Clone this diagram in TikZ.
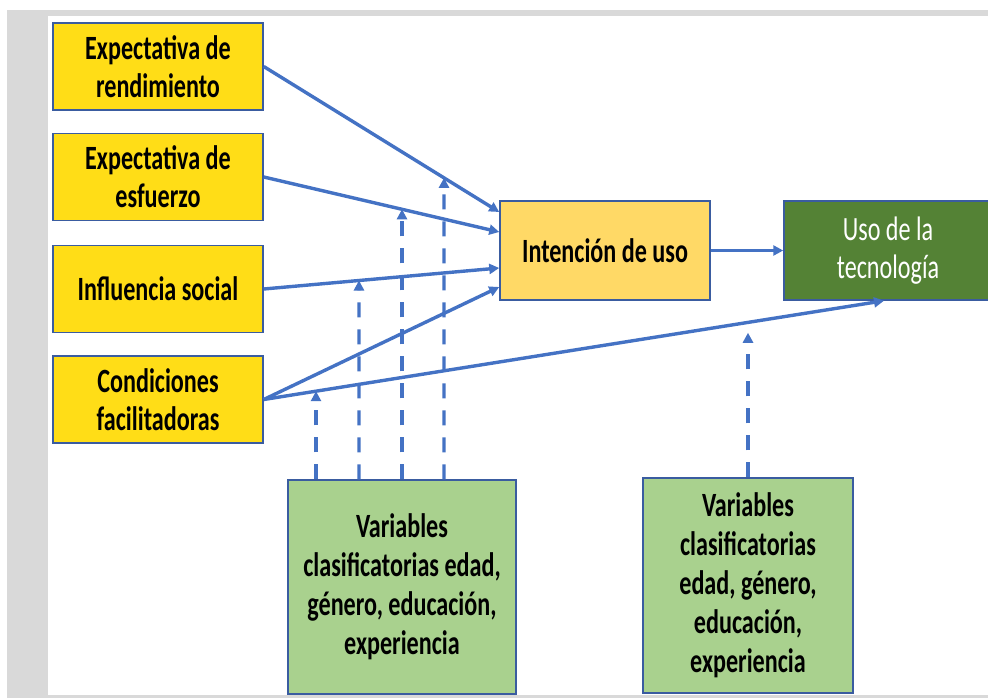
\documentclass[tikz,border=0pt]{standalone}
\usepackage{fontspec}
\setmainfont{Carlito}[FakeStretch=0.71]
\usetikzlibrary{arrows.meta}
\definecolor{myblue}{RGB}{68,114,196}
\definecolor{myedge}{RGB}{58,92,160}
\definecolor{myyellow}{RGB}{255,221,23}
\definecolor{myorange}{RGB}{255,217,102}
\definecolor{mygreen}{RGB}{84,130,53}
\definecolor{mylightgreen}{RGB}{169,209,142}
\definecolor{mygray}{RGB}{217,217,217}

\tikzset{
  factor/.style={draw=myedge, fill=myyellow, line width=1.5pt, inner sep=0pt,
    minimum width=210pt, minimum height=87pt, align=center,
    font=\bfseries\fontsize{34}{38}\selectfont},
  intent/.style={factor, fill=myorange, minimum height=99pt},
  usage/.style={factor, fill=mygreen, text=white, minimum width=208pt,
    minimum height=99pt, font=\fontsize{34}{38}\selectfont},
  moder/.style={factor, fill=mylightgreen, font=\bfseries\fontsize{34}{39}\selectfont},
  flow/.style={draw=myblue, line width=3.4pt, -{Triangle[length=10pt,width=10pt]}},
  modflow/.style={flow, dash pattern=on 15pt off 12pt}
}

\begin{document}
\begin{tikzpicture}[x=1pt,y=-1pt]
\useasboundingbox (0,0) rectangle (988,698);

%page frame
\fill[white] (0,0) rectangle (988,698);
\fill[mygray] (7,10) rectangle (988,698);
\fill[white] (48,16) rectangle (988,695);

%determinants
\node[factor] (rend) at (158,66.5) {Expectativa de\\rendimiento};
\node[factor] (esf) at (158,177) {Expectativa de\\esfuerzo};
\node[factor] (soc) at (158,289) {Influencia social};
\node[factor] (cond) at (158,399.5) {Condiciones\\facilitadoras};

%intention and use
\node[intent] (int) at (605,250.5) {Intención de uso};
\node[usage] (uso) at (888,250.5) {Uso de la\\tecnología};

%moderators
\node[moder, minimum width=228pt, minimum height=214pt] (var1) at (402,587)
  {Variables\\clasificatorias edad,\\género, educación,\\experiencia};
\node[moder, minimum height=215pt] (var2) at (748,585.5)
  {Variables\\clasificatorias\\edad, género,\\educación,\\experiencia};

%arrow end points
\coordinate (in1) at ([yshift=38.5pt]int.west);
\coordinate (in2) at ([yshift=18.5pt]int.west);
\coordinate (in3) at ([yshift=-17.5pt]int.west);
\coordinate (in4) at ([yshift=-36.5pt]int.west);
\coordinate (usoin) at ([xshift=-4pt]uso.south);
\coordinate (m1) at ([xshift=-86pt]var1.north);
\coordinate (m2) at ([xshift=-43pt]var1.north);
\coordinate (m3) at (var1.north);
\coordinate (m4) at ([xshift=42pt]var1.north);

%dashed moderating arrows
\draw[modflow] (m1) -- (intersection of cond.east--usoin and m1--m1|-int.north);
\draw[modflow] (m2) -- (intersection of soc.east--in3 and m2--m2|-int.north);
\draw[modflow] (m3) -- (intersection of esf.east--in2 and m3--m3|-int.north);
\draw[modflow] (m4) -- (intersection of rend.east--in1 and m4--m4|-int.north);
\draw[modflow] (var2.north) -- ([yshift=-32pt]var2.north |- uso.south);

%main paths
\draw[flow] (rend.east) -- (in1);
\draw[flow] (esf.east) -- (in2);
\draw[flow] (soc.east) -- (in3);
\draw[flow] (cond.east) -- (in4);
\draw[flow] (cond.east) -- (usoin);
\draw[flow] (int.east) -- (uso.west);

\end{tikzpicture}
\end{document}
